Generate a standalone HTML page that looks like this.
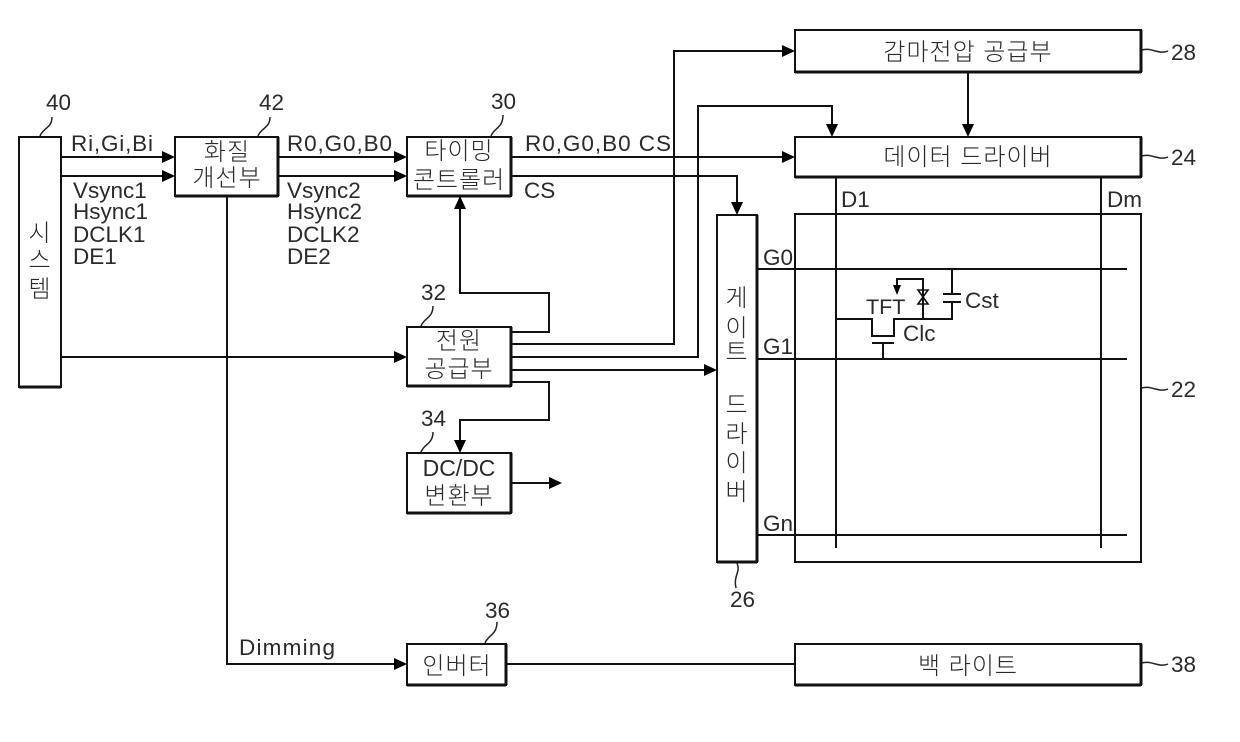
<!DOCTYPE html>
<html><head><meta charset="utf-8">
<style>
html,body{margin:0;padding:0;background:#fff}
svg{display:block}
text{font-family:"Liberation Sans","Noto Sans CJK KR",sans-serif;fill:#2a2a2a;font-size:22.5px}
.k{font-family:"Liberation Sans","Noto Sans CJK KR",sans-serif;font-weight:300;font-size:24px;text-anchor:middle;letter-spacing:1px}
.l{fill:none;stroke:#111;stroke-width:2}
.b{fill:none;stroke:#111;stroke-width:2}
.bb{fill:none;stroke:#111;stroke-width:3}
.a{fill:#000;stroke:none}
.t{fill:none;stroke:#222;stroke-width:1.5}
</style></head><body>
<svg width="1240" height="742" viewBox="0 0 1240 742" xmlns="http://www.w3.org/2000/svg">
<!-- boxes -->
<rect class="b" x="19" y="137" width="42" height="250"/>
<path class="bb" d="M19 387H61"/>
<rect class="b" x="175" y="137" width="103" height="59"/>
<path class="bb" d="M175 196H278M278 137V196"/>
<rect class="b" x="407" y="137" width="104" height="59"/>
<path class="bb" d="M407 196H511M511 137V196"/>
<rect class="b" x="407" y="327" width="104" height="59"/>
<path class="bb" d="M407 386H511M511 327V386"/>
<rect class="b" x="407" y="453" width="104" height="60"/>
<path class="bb" d="M407 513H511M511 453V513"/>
<rect class="b" x="407" y="644" width="99" height="41"/>
<path class="bb" d="M407 685H506M506 644V685"/>
<rect class="b" x="717" y="215" width="40" height="347"/>
<path class="bb" d="M717 562H757M757 215V562"/>
<rect class="b" x="795" y="30" width="346" height="42"/>
<path class="bb" d="M795 72H1141M1141 30V72"/>
<rect class="b" x="795" y="137" width="346" height="40"/>
<path class="bb" d="M795 177H1141M1141 137V177"/>
<rect class="b" x="795" y="214" width="346" height="348"/>
<rect class="b" x="795" y="644" width="346" height="41"/>
<path class="bb" d="M795 685H1141M1141 644V685"/>

<!-- connectors -->
<path class="l" d="M61 157H165M61 176H165M278 157H397M278 176H397"/>
<path class="l" d="M61 357H397"/>
<path class="l" d="M227 196V664H397"/>
<path class="l" d="M506 664H795"/>
<path class="l" d="M511 157H785"/>
<path class="l" d="M511 176H737V205"/>
<path class="l" d="M511 332H549V293H460V207"/>
<path class="l" d="M511 344H674V51H785"/>
<path class="l" d="M511 357H698V106H832V127"/>
<path class="l" d="M511 370H707"/>
<path class="l" d="M511 382H549V420H460V443"/>
<path class="l" d="M511 483H551"/>
<path class="l" d="M968 72V127"/>
<!-- arrowheads -->
<path class="a" d="M175 157L162 151V163Z"/>
<path class="a" d="M175 176L162 170V182Z"/>
<path class="a" d="M407 157L394 151V163Z"/>
<path class="a" d="M407 176L394 170V182Z"/>
<path class="a" d="M407 357L394 351V363Z"/>
<path class="a" d="M407 664L394 658V670Z"/>
<path class="a" d="M795 157L782 151V163Z"/>
<path class="a" d="M795 51L782 45V57Z"/>
<path class="a" d="M717 370L704 364V376Z"/>
<path class="a" d="M562 483L549 477V489Z"/>
<path class="a" d="M737 215L731 202H743Z"/>
<path class="a" d="M460 196L454 209H466Z"/>
<path class="a" d="M460 453L454 440H466Z"/>
<path class="a" d="M832 137L826 124H838Z"/>
<path class="a" d="M968 137L962 124H974Z"/>

<!-- panel lines -->
<path class="l" d="M836 177V548M1101 177V548"/>
<path class="l" d="M757 269H1127M757 359H1127M757 535H1127"/>
<!-- pixel circuit -->
<path class="l" d="M836 319H872V336H894V319H952V302M952 294V269"/>
<path class="l" d="M943 294H961M943 302H961"/>
<path class="l" d="M872 343H894M883 343V359"/>
<path class="l" d="M923 319V279H897V287"/>
<path class="a" d="M897 295L893 285H901Z"/>
<path class="l" style="stroke-width:1.6" d="M918 290H928L918 304H928Z"/>

<!-- leaders -->
<path class="t" d="M40 136C43 128 52 128 52 117"/>
<path class="t" d="M258 136C261 128 270 128 270 117"/>
<path class="t" d="M491 136C494 128 503 128 503 115"/>
<path class="t" d="M421 326C424 318 433 318 433 306"/>
<path class="t" d="M421 452C424 444 433 444 433 432"/>
<path class="t" d="M485 643C488 635 497 635 497 622"/>
<path class="t" d="M737 563C741 572 733 576 736 588"/>
<path class="t" d="M1142 50C1150 47 1160 55 1168 51"/>
<path class="t" d="M1142 156C1150 153 1160 161 1168 157"/>
<path class="t" d="M1142 388C1150 385 1160 393 1168 389"/>
<path class="t" d="M1142 663C1150 660 1160 668 1168 664"/>

<!-- numbers -->
<text x="46" y="110">40</text>
<text x="259" y="110">42</text>
<text x="491" y="109">30</text>
<text x="421" y="300">32</text>
<text x="421" y="426">34</text>
<text x="485" y="618">36</text>
<text x="730" y="607">26</text>
<text x="1171" y="60">28</text>
<text x="1171" y="165">24</text>
<text x="1171" y="397">22</text>
<text x="1171" y="672">38</text>

<!-- signal labels -->
<text x="71" y="151" textLength="82" lengthAdjust="spacing">Ri,Gi,Bi</text>
<text x="73" y="198">Vsync1</text>
<text x="73" y="219">Hsync1</text>
<text x="73" y="242">DCLK1</text>
<text x="73" y="264">DE1</text>
<text x="287" y="151" textLength="105" lengthAdjust="spacing">R0,G0,B0</text>
<text x="287" y="198">Vsync2</text>
<text x="287" y="219">Hsync2</text>
<text x="287" y="242">DCLK2</text>
<text x="287" y="264">DE2</text>
<text x="525" y="151" textLength="146" lengthAdjust="spacing">R0,G0,B0 CS</text>
<text x="524" y="198">CS</text>
<text x="239" y="655" textLength="96" lengthAdjust="spacing">Dimming</text>
<text x="841" y="207">D1</text>
<text x="1107" y="207">Dm</text>
<text x="763" y="265">G0</text>
<text x="763" y="354">G1</text>
<text x="763" y="531">Gn</text>
<text x="866" y="314" style="font-size:21.5px">TFT</text>
<text x="903" y="341">Clc</text>
<text x="965" y="308">Cst</text>

<!-- Korean labels -->
<text class="k" x="227" y="160">화질</text>
<text class="k" x="227" y="186">개선부</text>
<text class="k" x="459" y="159">타이밍</text>
<text class="k" x="459" y="188">콘트롤러</text>
<text class="k" x="459" y="349">전원</text>
<text class="k" x="459" y="377">공급부</text>
<text x="459" y="476" style="text-anchor:middle;font-size:23px">DC/DC</text>
<text class="k" x="459" y="504">변환부</text>
<text class="k" x="457" y="674">인버터</text>
<text class="k" x="968" y="60">감마전압 공급부</text>
<text class="k" x="968" y="165">데이터 드라이버</text>
<text class="k" x="968" y="674">백 라이트</text>
<text class="k" x="40" y="241">시</text>
<text class="k" x="40" y="268">스</text>
<text class="k" x="40" y="297">템</text>
<text class="k" x="737" y="306">게</text>
<text class="k" x="737" y="336">이</text>
<text class="k" x="737" y="360">트</text>
<text class="k" x="737" y="413">드</text>
<text class="k" x="737" y="442">라</text>
<text class="k" x="737" y="471">이</text>
<text class="k" x="737" y="500">버</text>
</svg>
</body></html>
